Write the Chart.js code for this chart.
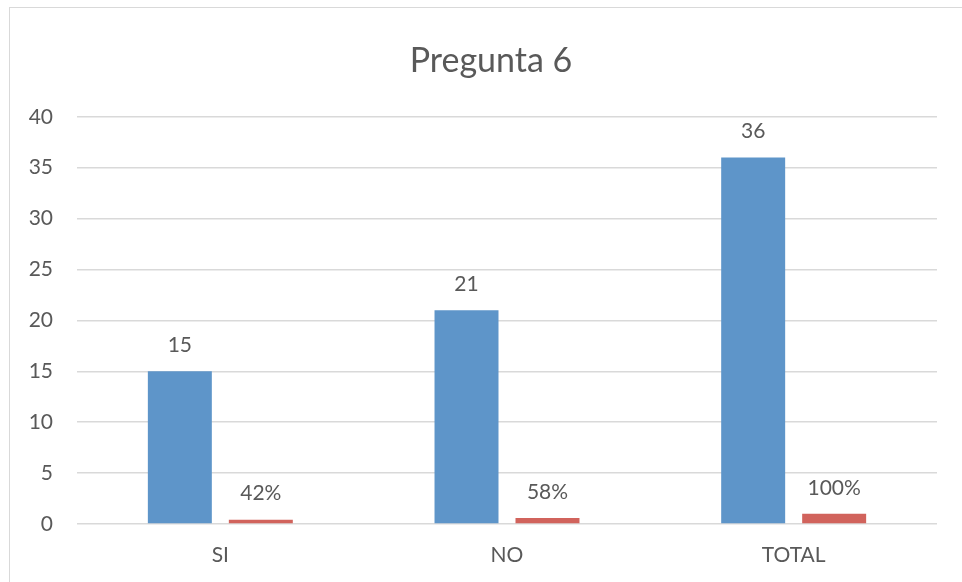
<!DOCTYPE html>
<html>
<head>
<meta charset="utf-8">
<script src="https://cdn.jsdelivr.net/npm/chart.js@4.4.1/dist/chart.umd.min.js"></script>
<style>
  html, body { margin: 0; padding: 0; background: #ffffff; overflow: hidden; }
  #frame { position: absolute; left: 9px; top: 7px; width: 1200px; height: 1200px; border: 1px solid #d9d9d9; box-sizing: border-box; }
  #wrap { position: absolute; left: 0; top: 0; width: 962px; height: 582px; }
</style>
</head>
<body>
<div id="frame"></div>
<div id="wrap"><canvas id="c" width="962" height="582"></canvas></div>
<script>
const categories = ["SI", "NO", "TOTAL"];
const counts = [15, 21, 36];
const shares = [0.42, 0.58, 1.00];
const titleText = "Pregunta 6";

const textColor = "#595959";
const fontFamily = "Lato, 'Open Sans', sans-serif";

const valueLabels = {
  id: "valueLabels",
  afterDatasetsDraw(chart) {
    const ctx = chart.ctx;
    ctx.save();
    ctx.font = "21px " + fontFamily;
    ctx.fillStyle = textColor;
    ctx.textAlign = "center";
    ctx.textBaseline = "middle";
    chart.data.datasets.forEach((ds, di) => {
      const meta = chart.getDatasetMeta(di);
      meta.data.forEach((bar, i) => {
        const v = ds.data[i];
        const txt = di === 0 ? String(v) : Math.round(v * 100) + "%";
        ctx.fillText(txt, bar.x, bar.y - 26);
      });
    });
    ctx.restore();
  }
};

new Chart(document.getElementById("c"), {
  type: "bar",
  data: {
    labels: categories,
    datasets: [
      { label: "Cantidad", data: counts, backgroundColor: "#5E95C9", categoryPercentage: 0.565, barPercentage: 0.79 },
      { label: "Porcentaje", data: shares, backgroundColor: "#D1635C", categoryPercentage: 0.565, barPercentage: 0.79 }
    ]
  },
  options: {
    responsive: false,
    animation: false,
    devicePixelRatio: 1,
    layout: { padding: { top: 0, right: 0, bottom: 0, left: 20 } },
    plugins: {
      legend: { display: false },
      tooltip: { enabled: false },
      title: {
        display: true,
        text: titleText,
        color: textColor,
        font: { family: fontFamily, size: 34, weight: "normal" },
        padding: { top: 41, bottom: 35 }
      }
    },
    scales: {
      x: {
        grid: { display: false, drawTicks: false },
        border: { display: false },
        ticks: { color: textColor, font: { family: fontFamily, size: 21 }, padding: 19 },
        afterFit(scale) { scale.height = 58; }
      },
      y: {
        min: 0,
        max: 40,
        ticks: { stepSize: 5, color: textColor, font: { family: fontFamily, size: 21 }, padding: 24 },
        grid: { color: "#d9d9d9", lineWidth: 1.5, drawTicks: false },
        border: { display: false },
        afterFit(scale) { scale.width = 57; }
      },
      yRight: {
        position: "right",
        min: 0,
        max: 40,
        ticks: { display: false },
        grid: { display: false, drawTicks: false },
        border: { display: false },
        afterFit(scale) { scale.width = 25; }
      }
    }
  },
  plugins: [valueLabels]
});
</script>
</body>
</html>
